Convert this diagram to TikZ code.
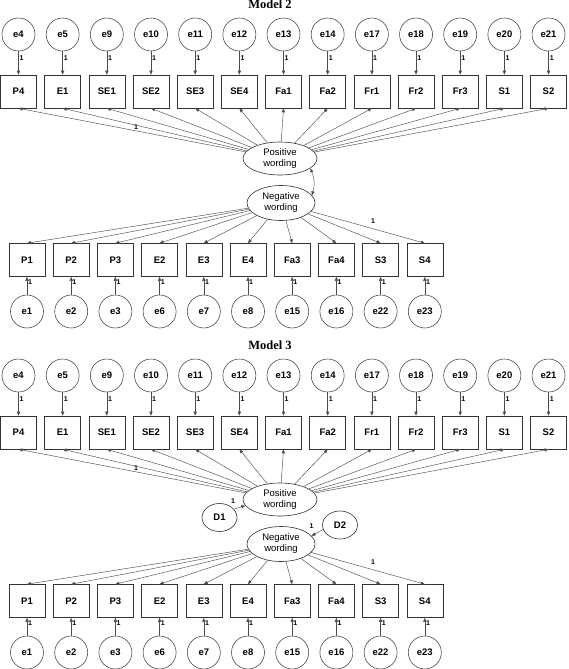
\documentclass[tikz,border=0pt]{standalone}
\usepackage{fontspec}
\setmainfont{Liberation Sans}
\newfontfamily\titlefont{Liberation Serif}
\usetikzlibrary{arrows.meta,shapes.geometric}
\begin{document}
\begin{tikzpicture}[x=1pt,y=-1pt,
  lin/.style={draw=black!70, line width=0.45pt},
  arr/.style={lin,-{Triangle[length=4pt,width=3.2pt]}},
  darr/.style={lin,{Triangle[length=4pt,width=3.2pt]}-{Triangle[length=4pt,width=3.2pt]}},
  obs/.style={draw=black!80, line width=0.6pt, minimum width=36pt, minimum height=33pt, inner sep=0pt, font=\fontsize{9.5}{11}\selectfont\bfseries},
  err/.style={circle, draw=black!75, line width=0.55pt, minimum size=33pt, inner sep=0pt, font=\fontsize{9.5}{11}\selectfont\bfseries},
  lat/.style={ellipse, draw=black!80, line width=0.6pt, inner sep=0pt, align=center, font=\fontsize{9.5}{11}\selectfont},
  dist/.style={ellipse, draw=black!80, line width=0.6pt, inner sep=0pt, minimum width=35pt, minimum height=28pt, font=\fontsize{9.5}{11}\selectfont\bfseries},
  lab/.style={font=\fontsize{7}{8}\selectfont\bfseries, inner sep=0.5pt},
  ttl/.style={font=\titlefont\fontsize{12.5}{14}\selectfont\bfseries, inner sep=0pt}]
\useasboundingbox (0,0) rectangle (568,669);
\foreach \m/\dy in {2/0,3/341} {
  \node[ttl, anchor=base] (title\m) at (270,8.5+\dy) {Model \m};
  \node[lat, minimum width=74pt, minimum height=33pt] (pos\m) at (280,158.5+\dy) {Positive\\wording};
  \node[lat, minimum width=68pt, minimum height=35pt] (neg\m) at (281,203+\dy) {Negative\\wording};
  \foreach \r/\e [count=\i from 0] in {P4/e4,E1/e5,SE1/e9,SE2/e10,SE3/e11,SE4/e12,Fa1/e13,Fa2/e14,Fr1/e17,Fr2/e18,Fr3/e19,S1/e20,S2/e21} {
    \node[obs] (tr\m-\i) at (18.5+44.17*\i,91.5+\dy) {\r};
    \node[err] (te\m-\i) at (18.5+44.17*\i,34.5+\dy) {\e};
    \draw[arr] (te\m-\i) -- node[lab,pos=0.3,right=0.5pt]{1} (tr\m-\i);
  }
  \draw[arr] (pos\m) -- node[lab,pos=0.483,above=1pt]{1} (tr\m-0.south);
  \foreach \i in {1,...,12} {
    \draw[arr] (pos\m) -- (tr\m-\i.south);
  }
  \foreach \r/\e [count=\j from 0] in {P1/e1,P2/e2,P3/e3,E2/e6,E3/e7,E4/e8,Fa3/e15,Fa4/e16,S3/e22,S4/e23} {
    \node[obs] (br\m-\j) at (27+44.2*\j,260+\dy) {\r};
    \node[err] (be\m-\j) at (27+44.2*\j,311.5+\dy) {\e};
    \draw[arr] (be\m-\j) -- node[lab,pos=0.72,right=0.5pt]{1} (br\m-\j);
  }
  \foreach \j in {0,...,8} {
    \draw[arr] (neg\m) -- (br\m-\j.north);
  }
  \draw[arr] (neg\m) -- node[lab,pos=0.545,above=5pt]{1} (br\m-9.north);
}
% Model 2 correlation
\draw[darr] (pos2.-18) to[bend left=20] (neg2.14);
% Model 3 disturbances
\node[dist] (D1) at (219.5,517.5) {D1};
\node[dist] (D2) at (340,525) {D2};
\draw[arr] (D1.30) -- node[lab,pos=0,above=5pt,xshift=-1pt]{1} (pos3.190);
\draw[arr] (D2.195) -- node[lab,pos=0.5,above left=3pt]{1} (neg3.15);
\end{tikzpicture}
\end{document}
